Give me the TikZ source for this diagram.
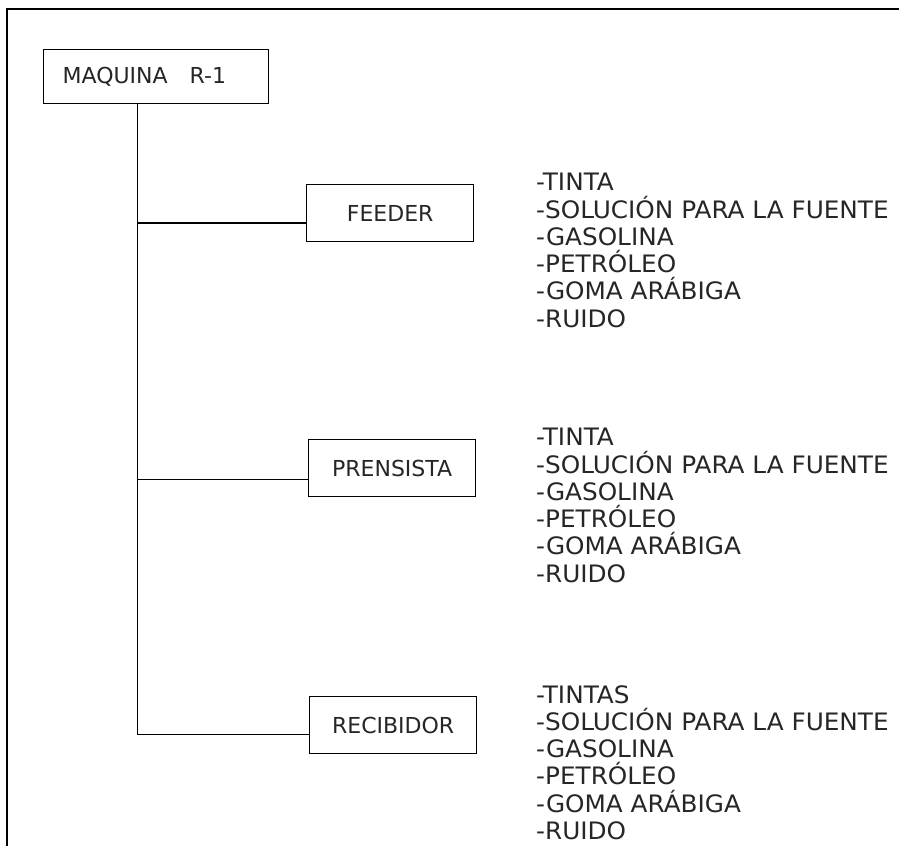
\documentclass[tikz,border=0pt]{standalone}
\usepackage{fontspec}
\setmainfont{DejaVu Sans}
\newfontfamily\listfont[FakeStretch=1.03]{DejaVu Sans}
\begin{document}
\begin{tikzpicture}[x=1pt,y=-1pt,
  every node/.style={font=\fontsize{22}{27}\selectfont, text=black!85},
  unitbox/.style={draw=black, line width=1.3pt, rectangle, inner sep=0pt,
                  minimum width=167pt, minimum height=57pt, anchor=north west},
  itemlist/.style={align=left, inner sep=0pt, anchor=north west,
                   font=\listfont\fontsize{24}{27.3}\selectfont},
  link/.style={draw=black, line width=1pt},
  frameline/.style={draw=black, line width=1.4pt}]
  % page area
  \clip (0,0) rectangle (899,846);
  \fill[white] (0,0) rectangle (899,846);

  % outer frame (top and left edges)
  \coordinate (ftl) at (7,9);
  \coordinate (ftr) at (899,9);
  \coordinate (fbl) at (7,846);
  \draw[frameline] (ftr) -- (ftl) -- (fbl);

  % machine box
  \node[draw=black, line width=1.3pt, anchor=north west, inner ysep=0pt,
        inner xsep=19pt, text width=187pt, minimum height=54pt, align=left]
        (maq) at (43,49) {MAQUINA\ \ \ R-1};

  % workstation boxes
  \node[unitbox] (fee) at (306,184) {};
  \node at (fee.center) {FEEDER};
  \node[unitbox] (pre) at (308,439) {};
  \node at (pre.center) {PRENSISTA};
  \node[unitbox] (rec) at (309,696) {};
  \node at (rec.center) {RECIBIDOR};

  % tree connectors
  \coordinate (trunk) at (137,103);
  \coordinate (jf) at (137,223);
  \coordinate (jp) at (137,479);
  \coordinate (jr) at (137,734);
  \draw[link] (trunk) -- (jr);
  \draw[link, line width=1.6pt] (jf) -- (fee.west |- jf);
  \draw[link] (jp) -- (pre.west |- jp);
  \draw[link] (jr) -- (rec.west |- jr);

  % hazard lists
  \node[itemlist] (lf) at (536,173) {-TINTA\\-SOLUCIÓN PARA LA FUENTE\\-GASOLINA\\-PETRÓLEO\\-GOMA ARÁBIGA\\-RUIDO};
  \node[itemlist] (lp) at (536,428) {-TINTA\\-SOLUCIÓN PARA LA FUENTE\\-GASOLINA\\-PETRÓLEO\\-GOMA ARÁBIGA\\-RUIDO};
  \node[itemlist] (lr) at (536,685) {-TINTAS\\-SOLUCIÓN PARA LA FUENTE\\-GASOLINA\\-PETRÓLEO\\-GOMA ARÁBIGA\\-RUIDO};
\end{tikzpicture}
\end{document}
